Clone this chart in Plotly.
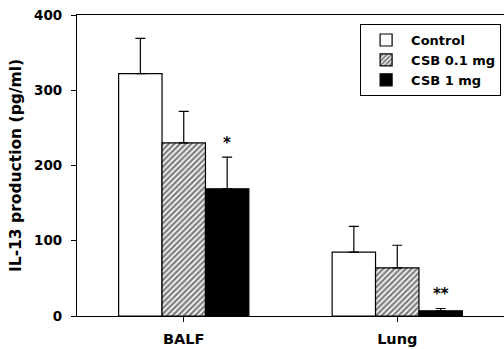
import plotly.graph_objects as go

categories = ["BALF", "Lung"]
series_names = ["Control", "CSB 0.1 mg", "CSB 1 mg"]
control = [322, 85]
control_err = [47, 34]
csb01 = [230, 64]
csb01_err = [42, 30]
csb1 = [169, 7]
csb1_err = [42, 3]
y_ticks = [0, 100, 200, 300, 400]
signif = ["*", "**"]

FONT = "DejaVu Sans, Verdana, sans-serif"

fig = go.Figure()
styles = [
    dict(color="white", pattern=None),
    dict(color="white", pattern=dict(shape="/", fgcolor="black", bgcolor="white", size=4, solidity=0.6)),
    dict(color="black", pattern=None),
]
for name, vals, errs, st in zip(series_names, [control, csb01, csb1],
                                [control_err, csb01_err, csb1_err], styles):
    marker = dict(color=st["color"], line=dict(color="black", width=1.2))
    if st["pattern"]:
        marker["pattern"] = st["pattern"]
    fig.add_trace(go.Bar(
        x=categories, y=vals, name=name, marker=marker,
        error_y=dict(type="data", array=errs, arrayminus=[0] * len(errs),
                     symmetric=False, color="black", thickness=1.2, width=5),
    ))

# significance markers above CSB 1 mg bars
group_w = 0.61
bar_w = group_w / 3
for i, s in enumerate(signif):
    fig.add_annotation(x=i + bar_w, y=csb1[i] + csb1_err[i], text="<b>" + s + "</b>",
                       showarrow=False, yshift=14, xref="x", yref="y",
                       font=dict(family=FONT, size=15, color="black"))

fig.update_layout(
    width=504, height=349,
    margin=dict(l=77, r=0, t=15, b=33),
    paper_bgcolor="white", plot_bgcolor="white",
    barmode="group", bargap=0.39, bargroupgap=0,
    font=dict(family=FONT, color="black"),
    legend=dict(x=0.663, y=0.97, xanchor="left", yanchor="top",
                bordercolor="black", borderwidth=1, bgcolor="white",
                font=dict(family=FONT, size=13, color="black", weight="bold"),
                tracegroupgap=0, itemwidth=40),
    showlegend=True,
)
fig.update_xaxes(showline=True, linecolor="black", linewidth=1.2, mirror=True,
                 ticks="outside", ticklen=5, tickcolor="black", tickwidth=1.2,
                 ticklabelstandoff=4,
                 tickfont=dict(family=FONT, size=14.5, weight="bold"),
                 range=[-0.5, 1.5], showgrid=False, zeroline=False)
fig.update_yaxes(range=[0, 400], tickvals=y_ticks, showline=True, linecolor="black",
                 linewidth=1.2, ticks="outside", ticklen=5, tickcolor="black", tickwidth=1.2,
                 ticklabelstandoff=6,
                 tickfont=dict(family=FONT, size=13.5, weight="bold"),
                 title=dict(text="IL-13 production (pg/ml)", standoff=8,
                            font=dict(family=FONT, size=15.5, weight="bold")),
                 showgrid=False, zeroline=False)

fig.write_html("out.html")
